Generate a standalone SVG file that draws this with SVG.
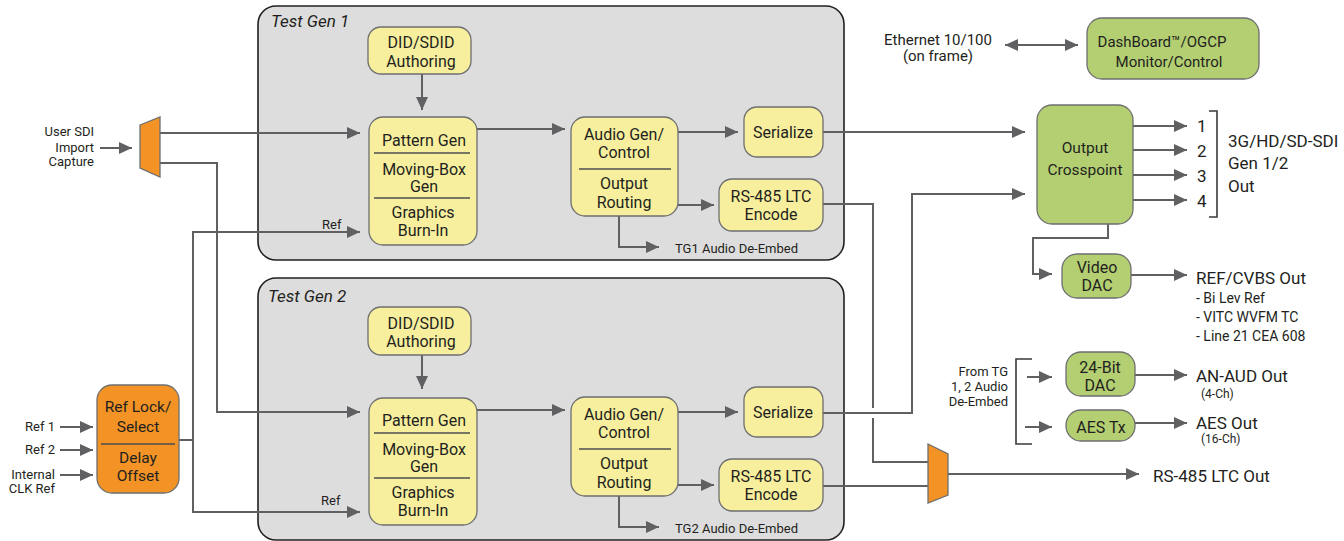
<svg xmlns="http://www.w3.org/2000/svg" width="1344" height="541" viewBox="0 0 1344 541">
<style>
text{font-family:Roboto,"Liberation Sans",sans-serif;fill:#231f20}
.c{text-anchor:middle}
.r{text-anchor:end}
.b{font-size:16px}
.s{font-size:13px}
.m{font-size:15px}
.l{font-size:17px}
.t{font-size:17px;font-style:italic}
.cont{fill:#dddddd;stroke:#231f20;stroke-width:1.6}
.y{fill:#f7ef9e;stroke:#6d6e70;stroke-width:1.3}
.g{fill:#b3cf72;stroke:#6d6e70;stroke-width:1.3}
.o{fill:#f39325;stroke:#6d6e70;stroke-width:1.3}
.dv{stroke:#4d4d4f;stroke-width:1.6}
.w{fill:none;stroke:#606062;stroke-width:2}
.a{marker-end:url(#ah)}
.br{fill:none;stroke:#3a3a3c;stroke-width:1.6}
</style>
<defs>
<marker id="ah" markerUnits="userSpaceOnUse" markerWidth="13" markerHeight="12" refX="13" refY="6" orient="auto-start-reverse"><path d="M0,0 L13,6 L0,12 z" fill="#606062"/></marker>
</defs>
<rect width="1344" height="541" fill="#ffffff"/>

<g id="testgen1">
<rect class="cont" x="258" y="6" width="586" height="254" rx="18"/>
<text class="t" x="271" y="27">Test Gen 1</text>
</g>
<g id="testgen2">
<rect class="cont" x="258" y="278" width="586" height="262" rx="18"/>
<text class="t" x="268" y="302">Test Gen 2</text>
</g>

<g id="connectors">
<path class="w a" d="M100,148 H132"/>
<path class="w a" d="M160,133 H360"/>
<path class="w a" d="M160,163 H217 V412 H360"/>
<path class="w" d="M179,440 H193"/>
<path class="w a" d="M193,440 V232 H360"/>
<path class="w a" d="M193,440 V512 H360"/>
<path class="w a" d="M60,427 H93"/>
<path class="w a" d="M60,450 H93"/>
<path class="w a" d="M60,475 H93"/>
<path class="w a" d="M422,73 V110"/>
<path class="w a" d="M422,355 V389"/>
<path class="w a" d="M477,129 H565"/>
<path class="w a" d="M477,410 H565"/>
<path class="w a" d="M678,132 H738"/>
<path class="w a" d="M678,412 H738"/>
<path class="w a" d="M678,205 H714"/>
<path class="w a" d="M678,485 H714"/>
<path class="w a" d="M619,216 V247 H659"/>
<path class="w a" d="M619,496 V527 H659"/>
<path class="w a" d="M823,132 H1025"/>
<path class="w" d="M823,204 H873 V408"/>
<path class="w" d="M873,418 V462 H928"/>
<path class="w a" d="M823,413 H912 V194 H1025"/>
<path class="w" d="M823,486 H928"/>
<path class="w a" d="M948,474 H1139"/>
<path class="w a" d="M1133,126 H1187"/>
<path class="w a" d="M1133,150 H1187"/>
<path class="w a" d="M1133,175 H1187"/>
<path class="w a" d="M1133,200 H1187"/>
<path class="w a" d="M1108,224 V238 H1033 V274 H1052"/>
<path class="w a" d="M1131,275 H1187"/>
<path class="w a" d="M1027,377 H1052"/>
<path class="w a" d="M1025,427 H1052"/>
<path class="w a" d="M1135,375 H1187"/>
<path class="w a" d="M1135,423 H1187"/>
<path class="w a" d="M1005,45 H1078" marker-start="url(#ah)"/>
<path class="br" d="M1032,359 H1016 V444 H1032"/>
<path class="br" d="M1209,111 H1217 V217 H1209"/>
</g>

<g id="mux-in">
<polygon class="o" points="140,125 160,117 160,177 140,168"/>
</g>
<g id="label-usersdi">
<text class="s r" x="94" y="136">User SDI</text>
<text class="s r" x="94" y="152">Import</text>
<text class="s r" x="94" y="166">Capture</text>
</g>
<g id="ref-inputs">
<text class="s r" x="55" y="431">Ref 1</text>
<text class="s r" x="55" y="454">Ref 2</text>
<text class="s r" x="55" y="479">Internal</text>
<text class="s r" x="55" y="493">CLK Ref</text>
</g>
<g id="reflock">
<rect class="o" x="97" y="385" width="82" height="108" rx="15"/>
<line class="dv" x1="101" y1="444" x2="175" y2="444"/>
<text class="c" style="font-size:15.5px" x="138" y="412">Ref Lock/</text>
<text class="c" style="font-size:15.5px" x="138" y="432">Select</text>
<text class="c" style="font-size:15.5px" x="138" y="463">Delay</text>
<text class="c" style="font-size:15.5px" x="138" y="481">Offset</text>
</g>

<g id="tg1-did">
<rect class="y" x="368" y="27" width="103" height="47" rx="13"/>
<text class="b c" x="421" y="48">DID/SDID</text>
<text class="b c" x="421" y="67">Authoring</text>
</g>
<g id="tg1-pattern">
<rect class="y" x="369" y="117" width="108" height="128" rx="14"/>
<line class="dv" x1="374" y1="153" x2="470" y2="153"/>
<line class="dv" x1="374" y1="198" x2="470" y2="198"/>
<text class="b c" x="424" y="146">Pattern Gen</text>
<text class="b c" x="424" y="175">Moving-Box</text>
<text class="b c" x="424" y="192">Gen</text>
<text class="b c" x="423" y="218">Graphics</text>
<text class="b c" x="423" y="236">Burn-In</text>
</g>
<text class="s" x="322" y="229">Ref</text>
<g id="tg1-audio">
<rect class="y" x="571" y="117" width="107" height="99" rx="14"/>
<line class="dv" x1="579" y1="169" x2="671" y2="169"/>
<text class="b c" x="624" y="140">Audio Gen/</text>
<text class="b c" x="624" y="158">Control</text>
<text class="b c" x="624" y="189">Output</text>
<text class="b c" x="624" y="208">Routing</text>
</g>
<g id="tg1-serialize">
<rect class="y" x="744" y="107" width="79" height="50" rx="13"/>
<text class="b c" x="783" y="138">Serialize</text>
</g>
<g id="tg1-rs485">
<rect class="y" x="719" y="179" width="104" height="52" rx="13"/>
<text class="b c" x="771" y="202">RS-485 LTC</text>
<text class="b c" x="771" y="220">Encode</text>
</g>
<text class="s" x="675" y="253">TG1 Audio De-Embed</text>

<g id="tg2-did">
<rect class="y" x="368" y="307" width="103" height="48" rx="13"/>
<text class="b c" x="421" y="329">DID/SDID</text>
<text class="b c" x="421" y="347">Authoring</text>
</g>
<g id="tg2-pattern">
<rect class="y" x="369" y="398" width="108" height="127" rx="14"/>
<line class="dv" x1="374" y1="433" x2="470" y2="433"/>
<line class="dv" x1="374" y1="478" x2="470" y2="478"/>
<text class="b c" x="424" y="426">Pattern Gen</text>
<text class="b c" x="424" y="455">Moving-Box</text>
<text class="b c" x="424" y="472">Gen</text>
<text class="b c" x="423" y="498">Graphics</text>
<text class="b c" x="423" y="516">Burn-In</text>
</g>
<text class="s" x="321" y="505">Ref</text>
<g id="tg2-audio">
<rect class="y" x="571" y="397" width="107" height="99" rx="14"/>
<line class="dv" x1="579" y1="449" x2="671" y2="449"/>
<text class="b c" x="624" y="420">Audio Gen/</text>
<text class="b c" x="624" y="438">Control</text>
<text class="b c" x="624" y="469">Output</text>
<text class="b c" x="624" y="488">Routing</text>
</g>
<g id="tg2-serialize">
<rect class="y" x="744" y="387" width="79" height="50" rx="13"/>
<text class="b c" x="783" y="418">Serialize</text>
</g>
<g id="tg2-rs485">
<rect class="y" x="719" y="459" width="104" height="52" rx="13"/>
<text class="b c" x="771" y="482">RS-485 LTC</text>
<text class="b c" x="771" y="500">Encode</text>
</g>
<text class="s" x="675" y="533">TG2 Audio De-Embed</text>

<g id="ethernet">
<text class="m c" x="938" y="45">Ethernet 10/100</text>
<text class="m c" x="938" y="61">(on frame)</text>
</g>
<g id="dashboard">
<rect class="g" x="1087" y="18" width="172" height="61" rx="15"/>
<text class="m c" x="1162" y="47">DashBoard™/OGCP</text>
<text class="m c" x="1169" y="67">Monitor/Control</text>
</g>
<g id="crosspoint">
<rect class="g" x="1037" y="105" width="96" height="119" rx="15"/>
<text class="c" style="font-size:15.5px" x="1085" y="153">Output</text>
<text class="c" style="font-size:15.5px" x="1085" y="175">Crosspoint</text>
</g>
<g id="sdi-out">
<text class="l" x="1197" y="132">1</text>
<text class="l" x="1197" y="157">2</text>
<text class="l" x="1197" y="182">3</text>
<text class="l" x="1197" y="207">4</text>
<text class="l" x="1228" y="147">3G/HD/SD-SDI</text>
<text class="l" x="1228" y="169">Gen 1/2</text>
<text class="l" x="1228" y="192">Out</text>
</g>
<g id="videodac">
<rect class="g" x="1062" y="254" width="69" height="44" rx="15"/>
<text class="b c" x="1097" y="273">Video</text>
<text class="b c" x="1097" y="291">DAC</text>
</g>
<g id="refcvbs">
<text class="l" x="1196" y="284">REF/CVBS Out</text>
<text style="font-size:14px" x="1196" y="303">- Bi Lev Ref</text>
<text style="font-size:14px" x="1196" y="322">- VITC WVFM TC</text>
<text style="font-size:14px" x="1196" y="341">- Line 21 CEA 608</text>
</g>
<g id="fromtg">
<text class="s r" x="1008" y="376">From TG</text>
<text class="s r" x="1008" y="391">1, 2 Audio</text>
<text class="s r" x="1008" y="406">De-Embed</text>
</g>
<g id="dac24">
<rect class="g" x="1066" y="352" width="69" height="44" rx="15"/>
<text class="b c" x="1100" y="373">24-Bit</text>
<text class="b c" x="1100" y="391">DAC</text>
</g>
<g id="aestx">
<rect class="g" x="1066" y="410" width="69" height="31" rx="15"/>
<text class="b c" x="1101" y="433">AES Tx</text>
</g>
<g id="anaud">
<text class="l" x="1196" y="382">AN-AUD Out</text>
<text style="font-size:12px" x="1201" y="398">(4-Ch)</text>
</g>
<g id="aesout">
<text class="l" x="1196" y="429">AES Out</text>
<text style="font-size:12px" x="1201" y="443">(16-Ch)</text>
</g>
<g id="mux-ltc">
<polygon class="o" points="928,444 948,454 948,495 928,503"/>
</g>
<g id="ltcout">
<text class="l" x="1153" y="482">RS-485 LTC Out</text>
</g>
</svg>
